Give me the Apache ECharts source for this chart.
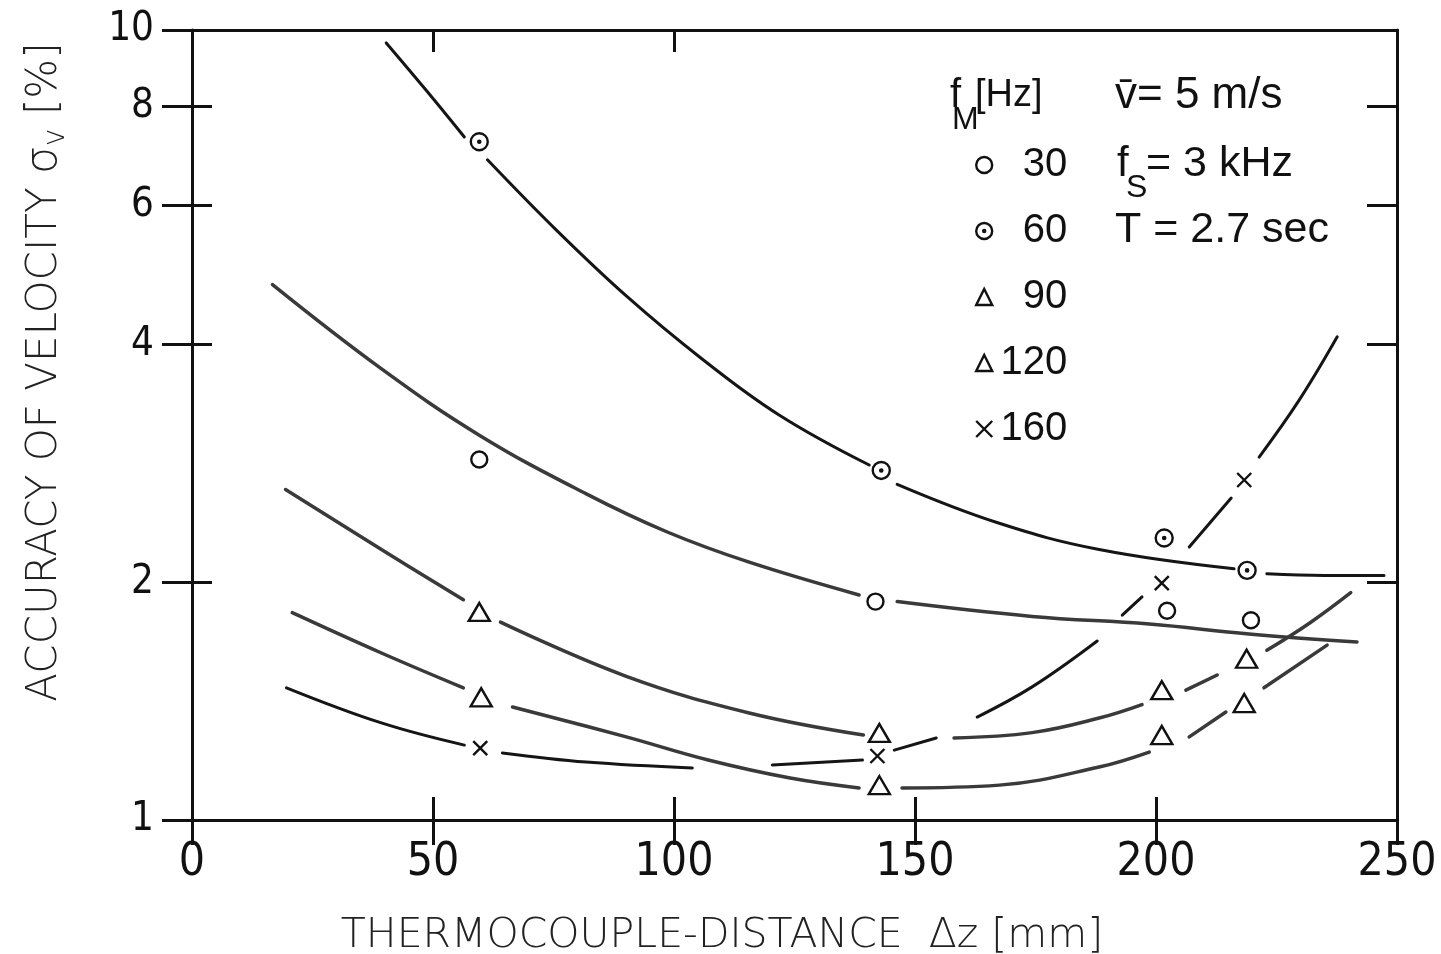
<!DOCTYPE html>
<html><head><meta charset="utf-8">
<script src="https://cdn.jsdelivr.net/npm/echarts@6/dist/echarts.min.js"></script>
<style>html,body{margin:0;padding:0;background:#fff}#c{width:1441px;height:954px}</style>
</head><body><div id="c"></div>
<script>
// ---------- axis ticks ----------
const xTickValues = [0, 50, 100, 150, 200, 250];
const xInnerTickValues = [50, 100, 150, 200];
const xTopTickValues = [50, 100];
const yTickValues = [1, 2, 4, 6, 8, 10];
const yInnerTickValues = [2, 4, 6, 8];

// ---------- legend (f_M in Hz) ----------
const legendNames = ['30', '60', '90', '120', '160'];

// ---------- measured points [Δz mm, σv %] ----------
const markers30 = [[59.6, 2.86], [141.8, 1.89], [202.3, 1.84], [219.7, 1.79]];
const markers60 = [[59.6, 7.22], [143.0, 2.77], [201.7, 2.275], [218.9, 2.07]];
const markers90 = [[59.6, 1.834], [142.6, 1.289], [201.2, 1.46], [218.8, 1.60]];
const markers120 = [[60.0, 1.43], [142.6, 1.107], [201.2, 1.281], [218.3, 1.406]];
const markers160 = [[59.8, 1.233], [142.2, 1.205], [201.2, 1.995], [218.3, 2.694]];

// ---------- drawn curves (segments) ----------
const curve60 = [
  [[40.3, 9.63], [48.5, 8.40], [56.5, 7.32]],
  [[61.3, 6.85], [75.6, 5.58], [90.1, 4.606], [105.3, 3.856], [121.8, 3.256], [140.5, 2.814]],
  [[146.3, 2.66], [167.0, 2.38], [188.2, 2.20], [216.2, 2.08]],
  [[223.0, 2.05], [235.0, 2.04], [247.3, 2.04]]
];
const curve30 = [
  [[16.7, 4.76], [38.9, 3.74], [59.6, 3.07], [81.8, 2.587], [98.6, 2.315], [115.6, 2.12], [138.4, 1.927]],
  [[146.3, 1.89], [174.3, 1.81], [198.6, 1.77], [219.3, 1.72], [241.7, 1.68]]
];
const curve90 = [
  [[19.4, 2.62], [39.3, 2.20], [56.3, 1.90]],
  [[64.0, 1.78], [90.1, 1.52], [115.6, 1.366], [139.3, 1.281]],
  [[158.1, 1.27], [174.3, 1.29], [188.2, 1.346], [197.1, 1.40]],
  [[206.2, 1.46], [212.7, 1.526]],
  [[223.0, 1.64], [231.9, 1.776], [240.4, 1.94]]
];
const curve120 = [
  [[20.8, 1.83], [39.3, 1.627], [56.3, 1.47]],
  [[66.5, 1.39], [90.1, 1.274], [107.1, 1.191], [124.1, 1.130], [138.4, 1.098]],
  [[147.3, 1.098], [167.5, 1.107], [188.2, 1.167], [198.6, 1.219]],
  [[206.9, 1.274], [214.5, 1.37]],
  [[222.4, 1.47], [235.5, 1.665]]
];
const curve160 = [
  [[19.6, 1.47], [39.3, 1.327], [56.5, 1.244]],
  [[64.4, 1.216], [81.8, 1.184], [103.8, 1.164]],
  [[120.4, 1.174], [139.1, 1.191]],
  [[145.7, 1.226], [154.4, 1.27]],
  [[162.9, 1.35], [174.3, 1.474], [187.8, 1.685]],
  [[193.0, 1.817], [197.1, 1.916]],
  [[206.9, 2.216], [215.6, 2.556]],
  [[221.4, 2.88], [229.7, 3.40], [237.6, 4.09]]
];

// ---------- styling ----------
const NARROW = '"Liberation Sans Narrow", "DejaVu Sans Condensed", "Liberation Sans", sans-serif';
const SANS = '"Liberation Sans", "DejaVu Sans", sans-serif';
const DEJA = '"DejaVu Sans", "Liberation Sans", sans-serif';
const INK = '#111';
const ringDot = 'path://M0,-10A10,10,0,1,1,0,10A10,10,0,1,1,0,-10ZM0,-1.3A1.3,1.3,0,1,1,0,1.3A1.3,1.3,0,1,1,0,-1.3Z';
const cross = 'path://M-10,-10L10,10M10,-10L-10,10';

const groups = [
  {name: '30', pts: markers30, curve: curve30, symbol: 'circle', size: 16, line: {color: '#3a3a3a', width: 3.5}},
  {name: '60', pts: markers60, curve: curve60, symbol: ringDot, size: 17, line: {color: '#151515', width: 3}},
  {name: '90', pts: markers90, curve: curve90, symbol: 'triangle', size: [21, 18], line: {color: '#3a3a3a', width: 3.5}},
  {name: '120', pts: markers120, curve: curve120, symbol: 'triangle', size: [21, 18], line: {color: '#3a3a3a', width: 3.5}},
  {name: '160', pts: markers160, curve: curve160, symbol: cross, size: 14, line: {color: '#151515', width: 3}}
];

const series = [];
groups.forEach(g => {
  g.curve.forEach((seg, i) => {
    series.push({
      type: 'line', name: g.name + '-curve-' + i, data: seg, smooth: 0.4,
      showSymbol: false, symbol: 'none', silent: true,
      lineStyle: {color: g.line.color, width: g.line.width, cap: 'round'},
      z: 2
    });
  });
});
groups.forEach(g => {
  series.push({
    type: 'scatter', name: g.name, data: g.pts, symbol: g.symbol, symbolSize: g.size,
    itemStyle: {color: '#fff', borderColor: INK, borderWidth: 2.4, opacity: 1},
    z: 5
  });
});

const tickStyle = {color: INK, width: 3};
const option = {
  backgroundColor: '#fff',
  animation: false,
  grid: {left: 192, right: 44, top: 30, bottom: 134},
  xAxis: [
    {type: 'value', position: 'bottom', min: 0, max: 250, interval: 50,
     axisLine: {show: true, onZero: false, lineStyle: {color: INK, width: 3}},
     axisTick: {show: true, inside: false, length: 25, lineStyle: tickStyle, customValues: xTickValues},
     axisLabel: {show: true, margin: 20, fontFamily: NARROW, fontSize: 46, color: INK, customValues: xTickValues},
     splitLine: {show: false}},
    {type: 'value', position: 'bottom', min: 0, max: 250, interval: 50,
     axisLine: {show: false, onZero: false},
     axisTick: {show: true, inside: true, length: 23, lineStyle: tickStyle, customValues: xInnerTickValues},
     axisLabel: {show: false}, splitLine: {show: false}},
    {type: 'value', position: 'top', min: 0, max: 250, interval: 50,
     axisLine: {show: true, onZero: false, lineStyle: {color: INK, width: 3}},
     axisTick: {show: true, inside: true, length: 22, lineStyle: tickStyle, customValues: xTopTickValues},
     axisLabel: {show: false}, splitLine: {show: false}}
  ],
  yAxis: [
    {type: 'log', logBase: 10, position: 'left', min: 1, max: 10,
     axisLine: {show: true, onZero: false, lineStyle: {color: INK, width: 3}},
     axisTick: {show: true, inside: false, length: 30, lineStyle: tickStyle, customValues: yTickValues},
     axisLabel: {show: true, margin: 38, fontFamily: NARROW, fontSize: 40, color: INK, customValues: yTickValues},
     splitLine: {show: false}, minorTick: {show: false}},
    {type: 'log', logBase: 10, position: 'left', min: 1, max: 10,
     axisLine: {show: false, onZero: false},
     axisTick: {show: true, inside: true, length: 20, lineStyle: tickStyle, customValues: yInnerTickValues},
     axisLabel: {show: false}, splitLine: {show: false}},
    {type: 'log', logBase: 10, position: 'right', min: 1, max: 10,
     axisLine: {show: true, onZero: false, lineStyle: {color: INK, width: 3}},
     axisTick: {show: true, inside: true, length: 30, lineStyle: tickStyle, customValues: yInnerTickValues},
     axisLabel: {show: false}, splitLine: {show: false}}
  ],
  legend: {
    data: legendNames, orient: 'vertical', left: 970, top: 140,
    itemWidth: 16, itemHeight: 16, itemGap: 26, selectedMode: false,
    itemStyle: {borderWidth: 2.4, borderColor: INK, color: '#fff', opacity: 1},
    formatter: n => '{a|' + n + '}',
    textStyle: {color: INK, fontFamily: SANS, fontSize: 40, lineHeight: 40,
      rich: {a: {width: 70, align: 'right', fontFamily: SANS, fontSize: 40, color: INK}}}
  },
  graphic: [
    {type: 'text', x: 950, y: 96, style: {text: 'f', font: '40px ' + SANS, fill: INK, textVerticalAlign: 'middle'}},
    {type: 'text', x: 952, y: 120, style: {text: 'M', font: '32px ' + SANS, fill: INK, textVerticalAlign: 'middle'}},
    {type: 'text', x: 975, y: 96, style: {text: '[Hz]', font: '38px ' + SANS, fill: INK, textVerticalAlign: 'middle'}},
    {type: 'text', x: 1115, y: 96, style: {text: 'v\u0304= 5 m/s', font: '44px ' + SANS, fill: INK, textVerticalAlign: 'middle'}},
    {type: 'text', x: 1117, y: 164, style: {text: 'f', font: '42px ' + SANS, fill: INK, textVerticalAlign: 'middle'}},
    {type: 'text', x: 1126, y: 188, style: {text: 'S', font: '32px ' + SANS, fill: INK, textVerticalAlign: 'middle'}},
    {type: 'text', x: 1146, y: 164, style: {text: '= 3 kHz', font: '43px ' + SANS, fill: INK, textVerticalAlign: 'middle'}},
    {type: 'text', x: 1115, y: 230, style: {text: 'T = 2.7 sec', font: '43px ' + SANS, fill: INK, textVerticalAlign: 'middle'}},
    {type: 'text', x: 722, y: 936, style: {text: 'THERMOCOUPLE-DISTANCE  \u0394z [mm]', font: '200 41px ' + DEJA, fill: '#222', textAlign: 'center', textVerticalAlign: 'middle'}},
    {type: 'text', x: 45, y: 372, rotation: Math.PI / 2,
     style: {text: '{t|ACCURACY OF VELOCITY }{g|\u03c3}{s|v}{t| [%]}', fill: '#222', textAlign: 'center', textVerticalAlign: 'middle',
       rich: {t: {fontFamily: DEJA, fontWeight: 200, fontSize: 42, lineHeight: 52, fill: '#222', verticalAlign: 'middle'},
              g: {fontFamily: DEJA, fontWeight: 200, fontSize: 44, lineHeight: 52, fill: '#222', verticalAlign: 'middle'},
              s: {fontFamily: DEJA, fontWeight: 200, fontSize: 30, lineHeight: 52, fill: '#222', verticalAlign: 'bottom'}}}}
  ],
  series: series
};
const chart = echarts.init(document.getElementById('c'), null, {renderer: 'canvas'});
chart.setOption(option);
</script></body></html>
